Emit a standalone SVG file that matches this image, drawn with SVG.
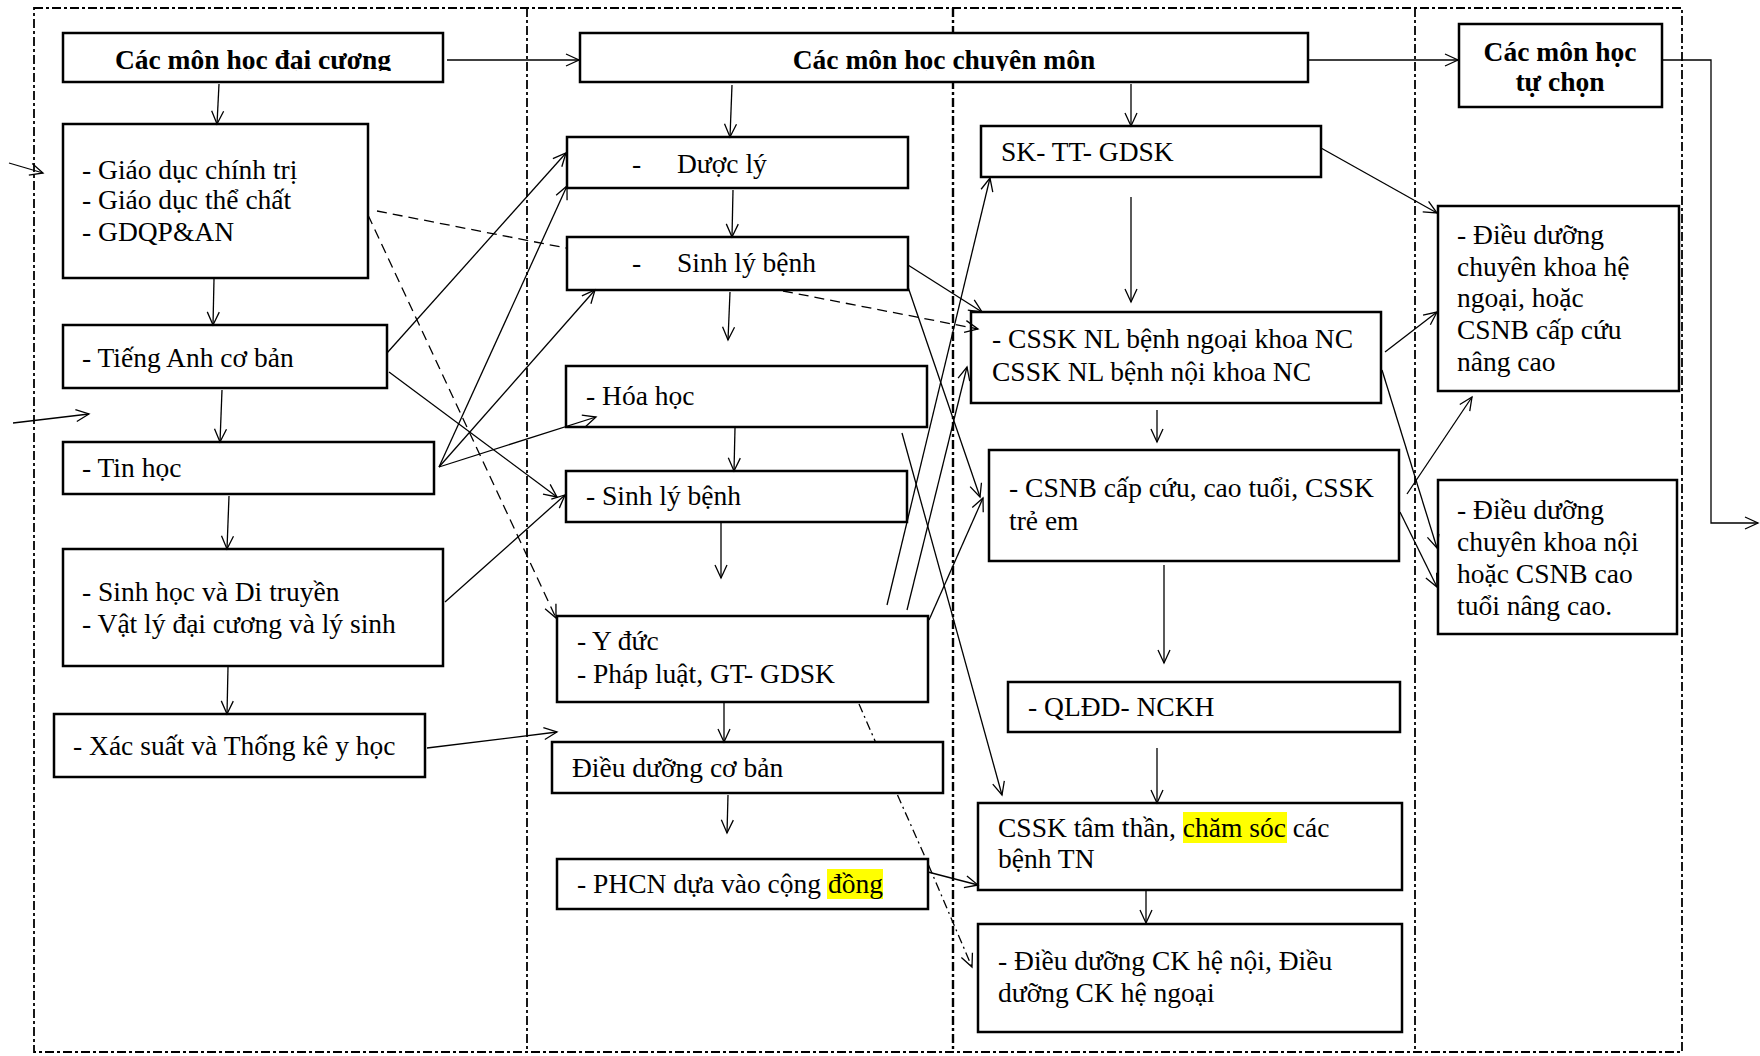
<svg xmlns="http://www.w3.org/2000/svg" width="1760" height="1056" viewBox="0 0 1760 1056">
<style>
.box{fill:#fff;stroke:#000;stroke-width:2.5}
.t{font-family:"Liberation Serif","Times New Roman",serif;font-size:27.5px;fill:#000}
.b{font-family:"Liberation Serif","Times New Roman",serif;font-size:27.5px;font-weight:bold;fill:#000}
.ln{fill:none;stroke:#000;stroke-width:1.3}
.dash{stroke-dasharray:10 6}
.dd{stroke-dasharray:9 4 2 4}
.frame{fill:none;stroke:#000;stroke-width:1.8;stroke-dasharray:9 3 3 3}
.hl{fill:#ffff00}
</style>
<defs>
<marker id="a" markerUnits="userSpaceOnUse" markerWidth="16" markerHeight="14" refX="14" refY="7" orient="auto" overflow="visible">
<path d="M1,1 L14,7 L1,13" fill="none" stroke="#000" stroke-width="1.3"/>
</marker>
<clipPath id="hc"><rect x="0" y="0" width="1760" height="71"/></clipPath>
</defs>
<rect width="1760" height="1056" fill="#fff"/>
<g id="frame">
<rect class="frame" x="34" y="8" width="1648" height="1044"/>
<line class="frame" x1="527" y1="8" x2="527" y2="1052"/>
<line class="frame" x1="953" y1="8" x2="953" y2="1052" style="stroke-width:2.4"/>
<line class="frame" x1="1415" y1="8" x2="1415" y2="1052"/>
</g>
<g id="n-daicuong"><rect class="box" x="63" y="33" width="380" height="49"/><text class="b" x="253" y="69" text-anchor="middle" clip-path="url(#hc)">Các môn học đại cương</text></g>
<g id="n-giaoduc"><rect class="box" x="63" y="124" width="305" height="154"/><text class="t" x="82" y="179">- Giáo dục chính trị</text><text class="t" x="82" y="209">- Giáo dục thể chất</text><text class="t" x="82" y="241">- GDQP&amp;AN</text></g>
<g id="n-tienganh"><rect class="box" x="63" y="325" width="324" height="63"/><text class="t" x="82" y="367">- Tiếng Anh cơ bản</text></g>
<g id="n-tinhoc"><rect class="box" x="63" y="442" width="371" height="52"/><text class="t" x="82" y="477">- Tin học</text></g>
<g id="n-sinhhoc"><rect class="box" x="63" y="549" width="380" height="117"/><text class="t" x="82" y="601">- Sinh học và Di truyền</text><text class="t" x="82" y="633">- Vật lý đại cương và lý sinh</text></g>
<g id="n-xacsuat"><rect class="box" x="54" y="714" width="371" height="63"/><text class="t" x="73" y="755">- Xác suất và Thống kê y học</text></g>
<g id="n-chuyenmon"><rect class="box" x="580" y="33" width="728" height="49"/><text class="b" x="944" y="69" text-anchor="middle" clip-path="url(#hc)">Các môn học chuyên môn</text></g>
<g id="n-duocly"><rect class="box" x="567" y="137" width="341" height="51"/><text class="t" x="632" y="173">-</text><text class="t" x="677" y="173">Dược lý</text></g>
<g id="n-sinhlybenh1"><rect class="box" x="567" y="237" width="341" height="53"/><text class="t" x="632" y="272">-</text><text class="t" x="677" y="272">Sinh lý bệnh</text></g>
<g id="n-hoahoc"><rect class="box" x="566" y="366" width="361" height="61"/><text class="t" x="586" y="405">- Hóa học</text></g>
<g id="n-sinhlybenh2"><rect class="box" x="566" y="471" width="341" height="51"/><text class="t" x="586" y="505">- Sinh lý bệnh</text></g>
<g id="n-yduc"><rect class="box" x="557" y="616" width="371" height="86"/><text class="t" x="577" y="650">- Y đức</text><text class="t" x="577" y="683">- Pháp luật, GT- GDSK</text></g>
<g id="n-dieuduongcoban"><rect class="box" x="552" y="742" width="391" height="51"/><text class="t" x="572" y="777">Điều dưỡng cơ bản</text></g>
<g id="n-phcn"><rect class="box" x="557" y="859" width="371" height="50"/><rect class="hl" x="827" y="869" width="56" height="30"/><text class="t" x="577" y="893">- PHCN dựa vào cộng đồng</text></g>
<g id="n-sktt"><rect class="box" x="981" y="126" width="340" height="51"/><text class="t" x="1001" y="161">SK- TT- GDSK</text></g>
<g id="n-csskNL"><rect class="box" x="971" y="312" width="410" height="91"/><text class="t" x="992" y="348">- CSSK NL bệnh ngoại khoa NC</text><text class="t" x="992" y="381">CSSK NL bệnh nội khoa NC</text></g>
<g id="n-csnb"><rect class="box" x="989" y="450" width="410" height="111"/><text class="t" x="1009" y="497">- CSNB cấp cứu, cao tuổi, CSSK</text><text class="t" x="1009" y="530">trẻ em</text></g>
<g id="n-qldd"><rect class="box" x="1008" y="682" width="392" height="50"/><text class="t" x="1028" y="716">- QLĐD- NCKH</text></g>
<g id="n-cssktt"><rect class="box" x="978" y="803" width="424" height="87"/><rect class="hl" x="1183" y="812" width="104" height="31"/><text class="t" x="998" y="837">CSSK tâm thần, chăm sóc các</text><text class="t" x="998" y="868">bệnh TN</text></g>
<g id="n-ddck"><rect class="box" x="978" y="924" width="424" height="108"/><text class="t" x="998" y="970">- Điều dưỡng CK hệ nội, Điều</text><text class="t" x="998" y="1002">dưỡng CK hệ ngoại</text></g>
<g id="n-tuchon"><rect class="box" x="1459" y="24" width="203" height="83"/><text class="b" x="1560" y="61" text-anchor="middle">Các môn học</text><text class="b" x="1560" y="91" text-anchor="middle">tự chọn</text></g>
<g id="n-ddngoai"><rect class="box" x="1438" y="206" width="241" height="185"/><text class="t" x="1457" y="244">- Điều dưỡng</text><text class="t" x="1457" y="276">chuyên khoa hệ</text><text class="t" x="1457" y="307">ngoại, hoặc</text><text class="t" x="1457" y="339">CSNB cấp cứu</text><text class="t" x="1457" y="371">nâng cao</text></g>
<g id="n-ddnoi"><rect class="box" x="1438" y="480" width="239" height="154"/><text class="t" x="1457" y="519">- Điều dưỡng</text><text class="t" x="1457" y="551">chuyên khoa nội</text><text class="t" x="1457" y="583">hoặc CSNB cao</text><text class="t" x="1457" y="615">tuổi nâng cao.</text></g>
<g id="connectors">
<line class="ln" x1="447" y1="60" x2="579" y2="60" marker-end="url(#a)"/>
<line class="ln" x1="1308" y1="60" x2="1458" y2="60" marker-end="url(#a)"/>
<polyline class="ln" points="1662,60 1711,60 1711,523 1758,523" marker-end="url(#a)"/>
<line class="ln" x1="9" y1="163" x2="43" y2="173" marker-end="url(#a)"/>
<line class="ln" x1="13" y1="423" x2="89" y2="414" marker-end="url(#a)"/>
<line class="ln" x1="219" y1="84" x2="217" y2="124" marker-end="url(#a)"/>
<line class="ln" x1="214" y1="279" x2="213" y2="325" marker-end="url(#a)"/>
<line class="ln" x1="222" y1="390" x2="220" y2="442" marker-end="url(#a)"/>
<line class="ln" x1="229" y1="496" x2="227" y2="549" marker-end="url(#a)"/>
<line class="ln" x1="228" y1="667" x2="227" y2="714" marker-end="url(#a)"/>
<line class="ln dash" x1="377" y1="211" x2="566" y2="248"/>
<line class="ln dash" x1="368" y1="215" x2="556" y2="618" marker-end="url(#a)"/>
<line class="ln" x1="387" y1="353" x2="566" y2="153" marker-end="url(#a)"/>
<line class="ln" x1="439" y1="467" x2="567" y2="186" marker-end="url(#a)"/>
<line class="ln" x1="439" y1="467" x2="595" y2="290" marker-end="url(#a)"/>
<line class="ln" x1="439" y1="467" x2="596" y2="417" marker-end="url(#a)"/>
<line class="ln" x1="389" y1="372" x2="557" y2="497" marker-end="url(#a)"/>
<line class="ln" x1="445" y1="602" x2="565" y2="495" marker-end="url(#a)"/>
<line class="ln" x1="427" y1="748" x2="557" y2="732" marker-end="url(#a)"/>
<line class="ln" x1="732" y1="85" x2="730" y2="137" marker-end="url(#a)"/>
<line class="ln" x1="733" y1="190" x2="732" y2="237" marker-end="url(#a)"/>
<line class="ln" x1="730" y1="292" x2="728" y2="340" marker-end="url(#a)"/>
<line class="ln" x1="735" y1="428" x2="734" y2="471" marker-end="url(#a)"/>
<line class="ln" x1="721" y1="523" x2="721" y2="578" marker-end="url(#a)"/>
<line class="ln" x1="724" y1="703" x2="724" y2="742" marker-end="url(#a)"/>
<line class="ln" x1="728" y1="795" x2="727" y2="833" marker-end="url(#a)"/>
<line class="ln" x1="928" y1="872" x2="978" y2="885" marker-end="url(#a)"/>
<path class="ln dd" d="M859,704 L875.5,742 M897.5,795 L925.5,858 M928.5,865 L972,967" marker-end="url(#a)"/>
<line class="ln dash" x1="783" y1="291" x2="978" y2="329" marker-end="url(#a)"/>
<line class="ln" x1="908" y1="265" x2="982" y2="312" marker-end="url(#a)"/>
<line class="ln" x1="908" y1="287" x2="980" y2="497" marker-end="url(#a)"/>
<line class="ln" x1="902" y1="433" x2="1002" y2="795" marker-end="url(#a)"/>
<line class="ln" x1="887" y1="605" x2="990" y2="178" marker-end="url(#a)"/>
<line class="ln" x1="907" y1="610" x2="967" y2="367" marker-end="url(#a)"/>
<line class="ln" x1="929" y1="620" x2="983" y2="498" marker-end="url(#a)"/>
<line class="ln" x1="1131" y1="84" x2="1131" y2="126" marker-end="url(#a)"/>
<line class="ln" x1="1131" y1="197" x2="1131" y2="302" marker-end="url(#a)"/>
<line class="ln" x1="1321" y1="148" x2="1437" y2="213" marker-end="url(#a)"/>
<line class="ln" x1="1385" y1="352" x2="1437" y2="312" marker-end="url(#a)"/>
<line class="ln" x1="1382" y1="370" x2="1437" y2="548" marker-end="url(#a)"/>
<line class="ln" x1="1400" y1="512" x2="1437" y2="587" marker-end="url(#a)"/>
<line class="ln" x1="1407" y1="494" x2="1472" y2="397" marker-end="url(#a)"/>
<line class="ln" x1="1157" y1="410" x2="1157" y2="442" marker-end="url(#a)"/>
<line class="ln" x1="1164" y1="565" x2="1164" y2="663" marker-end="url(#a)"/>
<line class="ln" x1="1157" y1="748" x2="1157" y2="803" marker-end="url(#a)"/>
<line class="ln" x1="1146" y1="891" x2="1146" y2="923" marker-end="url(#a)"/>
</g>
</svg>
